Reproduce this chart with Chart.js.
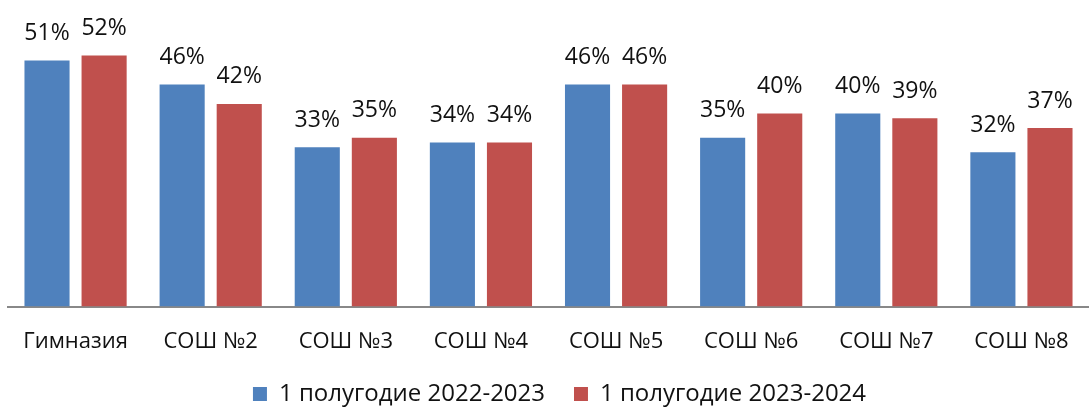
<!DOCTYPE html>
<html>
<head>
    <title>Успеваемость по школам</title>
    <script src="https://cdn.jsdelivr.net/npm/chart.js"></script>
    <style>
        body { margin: 0; background: #fff; }
        #wrap { width: 1089px; height: 407px; }
    </style>
</head>
<body>

<div id="wrap"><canvas id="schoolChart"></canvas></div>

<script>
const schools = ['Гимназия', 'СОШ №2', 'СОШ №3', 'СОШ №4', 'СОШ №5', 'СОШ №6', 'СОШ №7', 'СОШ №8'];
const seriesNames = ['1 полугодие 2022-2023', '1 полугодие 2023-2024'];
const values2022 = [51, 46, 33, 34, 46, 35, 40, 32];
const values2023 = [52, 42, 35, 34, 46, 40, 39, 37];

const FONT = "'Open Sans', 'Noto Sans', sans-serif";

// simple value labels above bars (no datalabels plugin offline)
const barLabels = {
    id: 'barLabels',
    afterDatasetsDraw(chart) {
        const ctx = chart.ctx;
        ctx.save();
        ctx.font = '23px ' + FONT;
        ctx.fillStyle = '#111';
        ctx.textAlign = 'center';
        ctx.textBaseline = 'middle';
        chart.data.datasets.forEach(function(ds, i) {
            chart.getDatasetMeta(i).data.forEach(function(bar, j) {
                ctx.fillText(ds.data[j] + '%', bar.x, bar.y - 27);
            });
        });
        ctx.restore();
    }
};

// nudge legend a little to the right
const legendShift = {
    id: 'legendShift',
    afterLayout(chart) {
        if (chart.legend) {
            chart.legend.left += 11;
            chart.legend.right += 11;
        }
    }
};

document.addEventListener("DOMContentLoaded", function() {
    const ctx = document.getElementById('schoolChart').getContext('2d');
    new Chart(ctx, {
        type: 'bar',
        data: {
            labels: schools,
            datasets: [{
                label: seriesNames[0],
                data: values2022,
                backgroundColor: '#4F81BD'
            }, {
                label: seriesNames[1],
                data: values2023,
                backgroundColor: '#C0504D'
            }]
        },
        options: {
            responsive: true,
            maintainAspectRatio: false,
            animation: false,
            categoryPercentage: 0.845,
            barPercentage: 0.79,
            layout: {
                padding: { left: 8, right: 0, top: 17, bottom: -9 }
            },
            scales: {
                x: {
                    grid: { display: false },
                    border: { display: true, color: '#888', width: 2 },
                    ticks: {
                        color: '#111',
                        padding: 14,
                        font: { family: FONT, size: 22 }
                    },
                    afterFit: function(scale) {
                        scale.height += 9;
                    }
                },
                y: {
                    display: false,
                    min: 0,
                    max: 60
                }
            },
            plugins: {
                legend: {
                    position: 'bottom',
                    labels: {
                        color: '#111',
                        boxWidth: 14,
                        boxHeight: 14,
                        padding: 4,
                        font: { family: FONT, size: 24 },
                        generateLabels: function(chart) {
                            const items = Chart.defaults.plugins.legend.labels.generateLabels(chart);
                            // widen the gap between the two legend entries
                            items[0].text = items[0].text + '    ';
                            return items;
                        }
                    }
                },
                tooltip: { enabled: false }
            }
        },
        plugins: [barLabels, legendShift]
    });
});
</script>

</body>
</html>
